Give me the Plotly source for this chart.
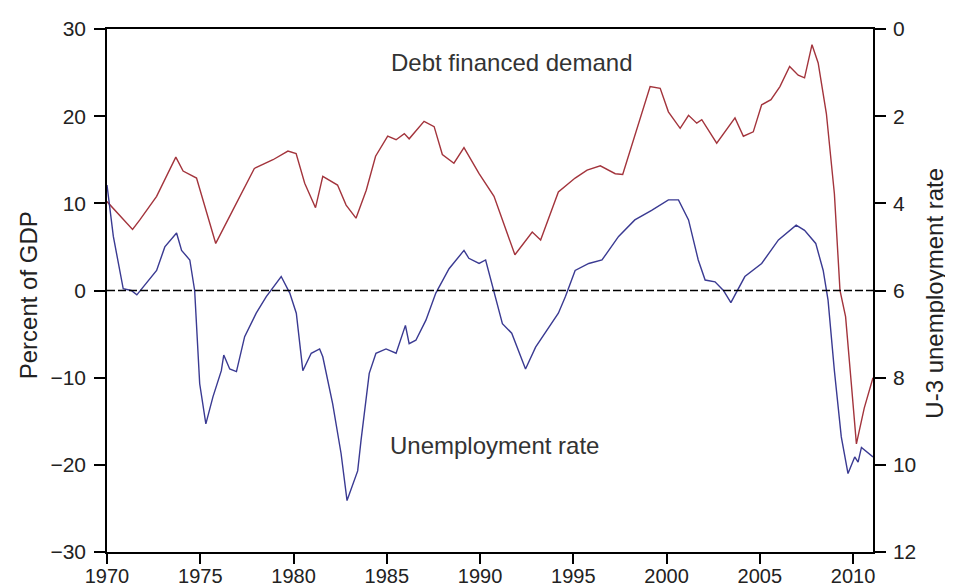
import plotly.graph_objects as go

# Debt financed demand (percent of GDP)
debt_years = [1970.0, 1970.7, 1971.37, 1971.76, 1972.66, 1973.69, 1974.08, 1974.8, 1975.83,
              1976.74, 1977.9, 1978.9, 1979.7, 1980.14, 1980.6, 1981.18, 1981.57, 1982.36,
              1982.82, 1983.35, 1983.9, 1984.4, 1985.05, 1985.5, 1985.94, 1986.2, 1987.0,
              1987.54, 1987.98, 1988.6, 1989.14, 1989.95, 1990.75, 1991.87, 1992.8, 1993.25,
              1994.2, 1995.1, 1995.74, 1996.45, 1997.25, 1997.65, 1998.68, 1999.12, 1999.66,
              2000.1, 2000.73, 2001.18, 2001.62, 2001.89, 2002.69, 2003.67, 2004.12, 2004.65,
              2005.1, 2005.6, 2006.08, 2006.6, 2007.06, 2007.4, 2007.8, 2008.13, 2008.57,
              2009.0, 2009.3, 2009.6, 2009.9, 2010.18, 2010.6, 2011.07]
debt_values = [10.2, 8.5, 7.0, 8.1, 10.8, 15.3, 13.7, 12.9, 5.4,
               9.2, 14.0, 15.0, 16.0, 15.7, 12.3, 9.5, 13.1, 12.1,
               9.8, 8.3, 11.5, 15.4, 17.7, 17.3, 18.0, 17.4, 19.4,
               18.8, 15.6, 14.6, 16.4, 13.4, 10.8, 4.1, 6.7, 5.8,
               11.3, 12.9, 13.8, 14.3, 13.4, 13.3, 20.3, 23.4, 23.2,
               20.5, 18.6, 20.1, 19.2, 19.6, 16.9, 19.8, 17.7, 18.2,
               21.3, 21.9, 23.4, 25.7, 24.7, 24.4, 28.2, 26.1, 20.3,
               11.1, 0.0, -3.0, -10.5, -17.6, -13.5, -10.0]

# U-3 unemployment rate (percent, plotted on inverted right axis)
unemp_years = [1970.0, 1970.34, 1970.87, 1971.3, 1971.6, 1971.94, 1972.66, 1973.1, 1973.73,
               1974.0, 1974.44, 1974.7, 1974.97, 1975.3, 1975.68, 1976.13, 1976.26, 1976.58,
               1976.94, 1977.38, 1978.0, 1978.54, 1979.34, 1979.8, 1980.15, 1980.5, 1980.95,
               1981.4, 1981.57, 1982.1, 1982.55, 1982.87, 1983.17, 1983.44, 1983.62, 1984.06,
               1984.42, 1984.96, 1985.5, 1986.0, 1986.2, 1986.56, 1987.1, 1987.63, 1988.34,
               1989.14, 1989.4, 1989.95, 1990.3, 1990.75, 1991.2, 1991.7, 1992.1, 1992.44,
               1992.98, 1993.7, 1994.2, 1994.58, 1995.1, 1995.83, 1996.54, 1997.43, 1998.3,
               1999.2, 2000.1, 2000.64, 2001.18, 2001.7, 2002.07, 2002.6, 2003.05, 2003.45,
               2004.2, 2005.1, 2006.0, 2006.95, 2007.4, 2008.0, 2008.4, 2008.66, 2009.0,
               2009.37, 2009.73, 2010.09, 2010.27, 2010.45, 2010.7, 2011.07]
unemp_values = [3.58, 4.76, 5.96, 6.0, 6.1, 5.92, 5.54, 5.0, 4.68,
                5.08, 5.3, 6.0, 8.14, 9.06, 8.44, 7.84, 7.48, 7.8,
                7.86, 7.06, 6.52, 6.14, 5.68, 6.06, 6.52, 7.84, 7.44,
                7.34, 7.52, 8.6, 9.74, 10.82, 10.44, 10.14, 9.44, 7.9,
                7.44, 7.34, 7.44, 6.8, 7.22, 7.14, 6.68, 6.06, 5.5,
                5.08, 5.26, 5.38, 5.3, 6.0, 6.76, 6.98, 7.44, 7.8,
                7.3, 6.84, 6.52, 6.14, 5.54, 5.38, 5.3, 4.76, 4.38,
                4.16, 3.92, 3.92, 4.38, 5.3, 5.76, 5.8, 6.0, 6.28,
                5.68, 5.38, 4.84, 4.5, 4.62, 4.92, 5.54, 6.22, 7.84,
                9.36, 10.2, 9.82, 9.94, 9.6, 9.68, 9.82]

x_ticks = [1970, 1975, 1980, 1985, 1990, 1995, 2000, 2005, 2010]
left_ticks = [-30, -20, -10, 0, 10, 20, 30]
right_ticks = [0, 2, 4, 6, 8, 10, 12]

font_family = "Liberation Sans, Arial, sans-serif"

fig = go.Figure()

fig.add_trace(go.Scatter(
    x=debt_years, y=debt_values, mode="lines",
    line=dict(color="#a3343c", width=1.4), yaxis="y", showlegend=False
))

fig.add_trace(go.Scatter(
    x=unemp_years, y=unemp_values, mode="lines",
    line=dict(color="#3a3a92", width=1.4), yaxis="y2", showlegend=False
))

# dashed zero line
fig.add_shape(type="line", xref="paper", yref="y", x0=0, x1=1, y0=0, y1=0,
              line=dict(color="black", width=1.5, dash="8px,3px"))

# series labels inside the plot
fig.add_annotation(x=1991.7, y=26.2, xref="x", yref="y", text="Debt financed demand",
                   showarrow=False, font=dict(size=24, color="#333333", family=font_family))
fig.add_annotation(x=1990.75, y=-17.8, xref="x", yref="y", text="Unemployment rate",
                   showarrow=False, font=dict(size=24, color="#333333", family=font_family))

# axis titles
fig.add_annotation(x=-0.103, y=0.491, xref="paper", yref="paper", text="Percent of GDP",
                   textangle=-90, showarrow=False, xanchor="center", yanchor="middle",
                   font=dict(size=24, color="#222222", family=font_family))
fig.add_annotation(x=1.081, y=0.494, xref="paper", yref="paper", text="U-3 unemployment rate",
                   textangle=-90, showarrow=False, xanchor="center", yanchor="middle",
                   font=dict(size=24, color="#222222", family=font_family))

axis_common = dict(showline=True, linecolor="black", linewidth=1.5, ticks="outside",
                   ticklen=11, tickwidth=1.5, tickcolor="black", showgrid=False,
                   zeroline=False, automargin=False,
                   tickfont=dict(size=21, color="#222222", family=font_family))

# the page body puts the figure 8px in from the corner, so size and margins allow for it
fig.update_layout(
    width=945, height=579,
    margin=dict(l=99, r=80, t=21, b=35),
    paper_bgcolor="white", plot_bgcolor="white",
    xaxis=dict(range=[1970, 2011.07], tickvals=x_ticks, mirror=True,
               ticklabelstandoff=-5, **axis_common),
    yaxis=dict(range=[-30, 30], tickvals=left_ticks, ticklabelstandoff=4, **axis_common),
    yaxis2=dict(range=[12, 0], tickvals=right_ticks, overlaying="y", side="right",
                ticklabelstandoff=3, **axis_common),
)
fig.update_xaxes(tickfont_size=20, ticklen=10)

fig.write_html("out.html")
